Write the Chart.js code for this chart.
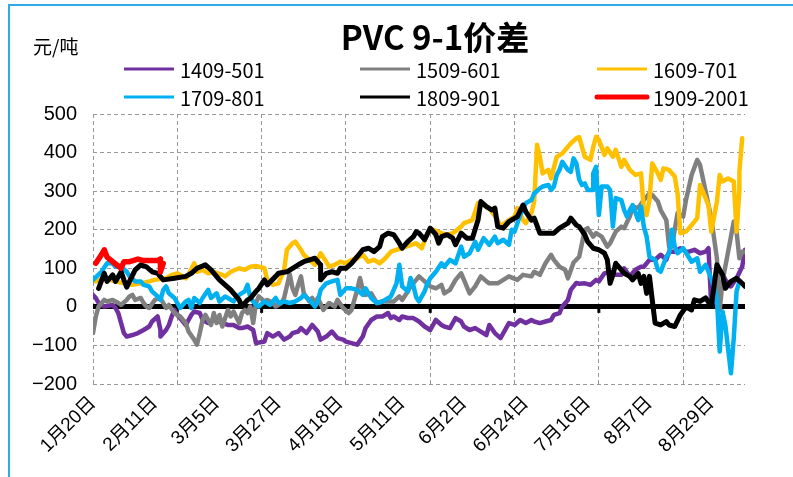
<!DOCTYPE html>
<html>
<head>
<meta charset="utf-8">
<script src="https://cdn.jsdelivr.net/npm/chart.js@4.4.1/dist/chart.umd.min.js"></script>
<style>
  html, body { margin: 0; padding: 0; background: #fff; }
  #wrap { position: relative; width: 793px; height: 477px; overflow: hidden; }
  #frame { position: absolute; left: 8px; top: 4px; width: 800px; height: 480px;
           border-left: 2px solid #2FAAE4; border-top: 2px solid #2FAAE4; pointer-events: none; }
</style>
</head>
<body>
<div id="wrap">
  <canvas id="spreadChart" width="793" height="477"></canvas>
  <div id="frame"></div>
</div>
<script>
// PVC 9-1 spread, one line per contract year, x = days since 1月20日
const chartTitle = "PVC 9-1价差";
const unitLabel = "元/吨";
const dateLabels = ["1月20日", "2月11日", "3月5日", "3月27日", "4月18日", "5月11日",
                    "6月2日", "6月24日", "7月16日", "8月7日", "8月29日"];
const labelStep = 22;
const gridStep = 30;
const dayMax = 232;

const seriesNames = ["1409-501", "1509-601", "1609-701", "1709-801", "1809-901", "1909-2001"];

const s1409 = [[0,31],[1,23],[2,10],[4,1],[7,5],[8,-3],[9,-16],[10,-42],[11,-68],[12,-77],[14,-73],[16,-68],[18,-60],[20,-51],[21,-38],[23,-25],[24,-60],[24,-77],[26,-60],[27,-47],[28,-25],[29,-8],[30,-21],[32,-38],[33,-47],[35,-21],[36,-12],[38,-16],[39,-34],[41,-42],[43,-34],[45,-38],[46,-42],[48,-47],[50,-47],[52,-55],[53,-55],[55,-51],[57,-60],[58,-94],[61,-90],[62,-68],[64,-77],[66,-68],[68,-85],[70,-77],[71,-68],[73,-64],[74,-55],[76,-68],[78,-47],[80,-64],[81,-85],[83,-77],[85,-64],[87,-81],[89,-85],[90,-90],[92,-94],[94,-98],[96,-77],[97,-55],[99,-34],[101,-25],[103,-25],[105,-16],[106,-29],[107,-25],[109,-34],[110,-25],[112,-29],[114,-29],[116,-38],[118,-51],[120,-60],[122,-34],[124,-47],[125,-51],[127,-55],[129,-29],[131,-38],[132,-51],[134,-60],[136,-55],[138,-64],[140,-73],[141,-47],[143,-68],[145,-81],[147,-55],[148,-42],[150,-47],[152,-34],[154,-42],[156,-34],[157,-38],[159,-42],[161,-38],[163,-34],[164,-21],[166,-16],[167,1],[169,18],[170,44],[171,53],[172,62],[173,60],[175,61],[177,57],[179,70],[180,66],[182,87],[184,91],[186,83],[188,83],[189,100],[191,79],[193,96],[195,104],[196,104],[198,122],[200,122],[202,135],[204,122],[205,143],[207,143],[209,152],[211,143],[212,143],[214,148],[216,139],[218,143],[219,152],[220,1],[221,18],[222,96],[224,87],[225,70],[227,53],[229,74],[231,104],[232,148]];

const s1509 = [[0,-68],[1,-25],[2,1],[4,18],[5,14],[7,18],[9,10],[10,5],[12,18],[13,27],[14,31],[15,18],[17,23],[18,10],[19,1],[20,-3],[22,18],[24,23],[26,-3],[27,5],[29,-16],[31,-25],[33,-42],[34,-64],[36,-85],[37,-98],[38,-68],[39,-34],[40,-21],[42,-47],[43,-16],[44,-42],[45,-21],[46,-51],[48,-8],[49,-25],[50,-12],[52,-42],[53,-16],[54,-8],[55,-16],[56,1],[57,-42],[58,10],[59,27],[61,14],[62,18],[64,10],[65,1],[67,10],[68,23],[70,85],[71,48],[72,31],[73,57],[74,79],[75,35],[77,14],[78,23],[79,10],[80,23],[82,-8],[84,10],[86,1],[87,18],[89,-3],[91,-16],[92,-8],[94,44],[95,75],[96,44],[97,31],[99,35],[101,10],[103,14],[105,14],[107,14],[109,27],[110,18],[112,40],[113,53],[115,70],[116,79],[118,66],[120,53],[122,48],[124,57],[125,35],[127,44],[129,70],[131,87],[132,70],[134,35],[136,53],[138,79],[140,66],[141,61],[144,61],[146,70],[148,79],[151,70],[153,83],[156,79],[157,91],[159,83],[161,113],[163,135],[164,122],[166,104],[168,96],[169,74],[171,115],[173,130],[175,200],[176,204],[178,182],[179,191],[181,182],[183,156],[184,165],[186,195],[188,208],[189,204],[191,234],[192,260],[194,256],[196,277],[198,294],[199,290],[201,273],[202,251],[204,225],[205,156],[206,156],[207,200],[208,243],[210,234],[211,277],[213,342],[215,381],[216,368],[218,299],[220,230],[221,178],[222,126],[223,-8],[224,66],[226,143],[228,221],[229,195],[230,126],[231,143],[232,143]];

const s1609 = [[1,66],[4,74],[8,66],[11,61],[14,57],[17,61],[20,66],[22,70],[26,74],[28,83],[30,87],[33,74],[34,83],[36,113],[37,91],[39,96],[41,87],[43,91],[46,83],[47,79],[49,91],[52,100],[54,96],[56,104],[58,106],[61,100],[62,70],[64,57],[66,61],[68,96],[69,148],[71,165],[72,169],[74,148],[75,135],[77,122],[79,109],[81,139],[83,117],[84,104],[86,109],[88,117],[90,113],[92,122],[94,126],[96,135],[98,117],[100,122],[102,113],[104,126],[106,143],[108,148],[110,152],[113,160],[115,165],[117,152],[119,191],[121,200],[124,191],[126,187],[128,191],[131,208],[132,217],[135,225],[137,269],[139,264],[141,256],[144,225],[145,208],[148,225],[150,234],[151,256],[153,225],[154,217],[156,243],[157,273],[158,420],[159,389],[160,346],[162,355],[163,333],[165,389],[167,398],[169,415],[170,424],[172,437],[173,440],[175,389],[177,381],[178,415],[179,441],[180,433],[182,394],[183,411],[185,389],[186,407],[188,363],[189,381],[191,355],[193,342],[195,346],[196,251],[197,238],[198,277],[199,372],[201,346],[202,329],[203,359],[205,355],[207,338],[208,294],[209,191],[211,195],[213,212],[215,230],[216,316],[217,299],[219,264],[220,195],[222,273],[223,342],[224,325],[226,333],[228,325],[229,195],[230,299],[230,350],[231,437]];

const s1709 = [[0,70],[3,91],[5,113],[7,113],[8,104],[10,104],[12,91],[13,79],[15,66],[17,66],[18,57],[20,53],[21,40],[23,27],[24,18],[25,44],[26,53],[27,35],[29,23],[30,10],[31,-3],[33,14],[34,18],[35,-3],[36,23],[38,10],[39,23],[41,44],[42,23],[44,35],[45,14],[47,27],[48,23],[50,14],[52,31],[54,40],[55,57],[56,23],[58,5],[59,1],[61,14],[63,5],[65,23],[66,10],[68,14],[70,10],[72,14],[74,23],[75,31],[77,18],[79,1],[80,14],[81,44],[83,61],[85,66],[87,70],[88,31],[90,48],[92,48],[94,44],[96,31],[97,48],[99,23],[101,10],[103,14],[106,27],[108,61],[109,109],[110,53],[112,40],[113,75],[114,55],[115,25],[116,14],[118,40],[119,61],[120,74],[122,91],[124,113],[125,104],[127,122],[129,113],[131,156],[132,130],[134,139],[136,169],[137,148],[139,178],[141,161],[143,182],[144,165],[146,174],[148,161],[149,200],[150,195],[152,238],[154,269],[156,277],[157,294],[159,307],[160,312],[162,316],[163,303],[164,312],[165,342],[166,355],[167,376],[169,355],[170,350],[171,385],[172,372],[173,330],[174,316],[175,320],[176,303],[178,303],[178,346],[179,363],[180,238],[181,312],[183,312],[184,303],[185,208],[186,282],[188,277],[189,251],[190,234],[191,251],[192,264],[194,225],[195,260],[196,208],[197,182],[198,130],[200,122],[201,96],[202,91],[204,130],[205,139],[206,200],[207,156],[208,139],[210,152],[213,117],[215,126],[216,91],[218,109],[219,91],[220,74],[222,23],[223,-116],[224,-12],[225,-47],[227,-172],[228,-81],[229,40],[230,66]];

const s1809 = [[2,48],[4,87],[5,66],[7,83],[8,66],[10,91],[11,70],[12,51],[13,66],[15,96],[17,109],[19,104],[21,91],[23,87],[25,70],[29,74],[33,79],[35,87],[37,100],[40,109],[42,96],[45,70],[47,57],[49,44],[52,18],[53,1],[55,18],[56,22],[58,40],[59,48],[61,70],[62,57],[65,79],[66,87],[69,91],[73,109],[75,117],[79,126],[81,109],[81,70],[83,87],[85,91],[87,87],[88,100],[90,100],[92,113],[94,130],[96,148],[98,152],[100,143],[102,156],[103,182],[105,191],[107,187],[109,165],[110,152],[112,169],[114,182],[115,195],[116,191],[118,174],[120,204],[122,187],[123,165],[124,182],[126,187],[128,178],[129,161],[131,191],[133,178],[135,178],[137,225],[138,273],[140,260],[142,251],[143,256],[144,208],[146,204],[148,221],[151,234],[153,264],[154,247],[156,225],[157,230],[159,191],[162,191],[164,191],[166,204],[169,217],[170,230],[172,212],[173,208],[175,187],[176,169],[178,152],[180,148],[182,139],[183,122],[184,61],[185,83],[186,113],[188,96],[189,87],[191,79],[192,70],[194,87],[195,61],[196,79],[197,35],[198,79],[199,18],[200,-42],[202,-47],[204,-38],[205,-47],[207,-51],[209,-21],[211,0],[213,-8],[214,18],[216,14],[218,23],[220,1],[222,109],[224,83],[225,48],[227,66],[229,74],[231,61],[232,53]];

const s1909 = [[1,113],[3,135],[4,148],[5,129],[7,117],[10,100],[11,117],[13,117],[16,124],[18,120],[23,120],[24,124],[24,91],[25,113]];

const seriesValues = [s1409, s1509, s1609, s1709, s1809, s1909];
const seriesColors = ["#7030A0", "#808080", "#FFC000", "#00B0F0", "#000000", "#FF0000"];
const lineWidths = [4.5, 4.5, 4.5, 4.5, 5, 5.5];
const legendWidths = [3, 3, 3, 3, 3, 5];

// x ticks: labels every 22 days, dashed gridlines every 30 days
const tickValues = [];
for (let d = 0; d <= dayMax; d++) {
    if (d % labelStep === 0 || d % gridStep === 0) tickValues.push(d);
}

const datasets = seriesValues.map((vals, i) => ({
    label: seriesNames[i],
    data: vals.map(p => ({ x: p[0], y: p[1] })),
    borderColor: seriesColors[i],
    backgroundColor: seriesColors[i],
    borderWidth: lineWidths[i],
    legendWidth: legendWidths[i],
    pointRadius: 0,
    tension: 0,
    borderJoinStyle: "round",
    borderCapStyle: "round",
    order: seriesValues.length - i
}));

const isZero = ctx => ctx.tick && ctx.tick.value === 0;

// title, unit, 3-column legend and the tick stubs on the zero axis
const headerPlugin = {
    id: "header",
    beforeDatasetsDraw(chart) {
        const ctx = chart.ctx;
        const xs = chart.scales.x, ys = chart.scales.y;
        const y0 = ys.getPixelForValue(0);
        ctx.save();
        ctx.fillStyle = "#000";
        for (let d = gridStep; d < dayMax; d += gridStep) {
            const px = xs.getPixelForValue(d);
            ctx.fillRect(px - 1.5, y0, 3, 6);
        }
        ctx.restore();
    },
    afterDraw(chart) {
        const ctx = chart.ctx;
        ctx.save();
        ctx.fillStyle = "#000";
        ctx.textBaseline = "middle";
        ctx.textAlign = "center";
        ctx.font = 'bold 33px "Noto Sans CJK SC"';
        ctx.fillText(chartTitle, 435, 37);

        ctx.textAlign = "left";
        ctx.font = '19px "Noto Sans CJK SC"';
        ctx.fillText(unitLabel, 33, 47);

        const colX = [124, 360, 597];
        const rowY = [69, 97];
        ctx.font = '20px "Noto Sans CJK SC"';
        chart.data.datasets.forEach((ds, i) => {
            const x = colX[i % 3];
            const y = rowY[Math.floor(i / 3)];
            ctx.strokeStyle = ds.borderColor;
            ctx.lineWidth = ds.legendWidth;
            ctx.lineCap = ds.legendWidth > 4 ? "round" : "butt";
            ctx.beginPath();
            ctx.moveTo(x, y);
            ctx.lineTo(x + 50, y);
            ctx.stroke();
            ctx.fillText(ds.label, x + 56, y + 1);
        });
        ctx.restore();
    }
};

new Chart(document.getElementById("spreadChart"), {
    type: "line",
    data: { datasets: datasets },
    options: {
        responsive: false,
        animation: false,
        layout: { padding: { left: 10, right: 48, top: 114, bottom: 13 } },
        plugins: {
            legend: { display: false },
            title: { display: false },
            tooltip: { enabled: false }
        },
        scales: {
            x: {
                type: "linear",
                min: 0,
                max: dayMax,
                afterBuildTicks: scale => { scale.ticks = tickValues.map(v => ({ value: v })); },
                afterFit: scale => { scale.height = 80; },
                ticks: {
                    autoSkip: false,
                    minRotation: 45,
                    maxRotation: 45,
                    padding: 8,
                    color: "#000",
                    font: { family: '"Liberation Sans", "Noto Sans CJK SC"', size: 19 },
                    callback: v => (v % labelStep === 0 ? dateLabels[v / labelStep] : "")
                },
                grid: {
                    color: ctx => (ctx.tick && ctx.tick.value % gridStep === 0 ? "#999999" : "rgba(0,0,0,0)"),
                    lineWidth: 1,
                    drawTicks: false
                },
                border: { display: false, dash: [4, 3] }
            },
            y: {
                min: -200,
                max: 500,
                afterFit: scale => { scale.width = 83; },
                ticks: {
                    stepSize: 100,
                    padding: 16,
                    color: "#000",
                    font: { family: '"Liberation Sans"', size: 20 },
                    callback: v => (v < 0 ? "\u2212" + Math.abs(v) : String(v))
                },
                grid: {
                    color: ctx => (isZero(ctx) ? "#000000" : "#999999"),
                    lineWidth: ctx => (isZero(ctx) ? 5 : 1),
                    drawTicks: false
                },
                border: { display: false, dash: ctx => (isZero(ctx) ? [] : [4, 3]) }
            }
        }
    },
    plugins: [headerPlugin]
});
</script>
</body>
</html>
